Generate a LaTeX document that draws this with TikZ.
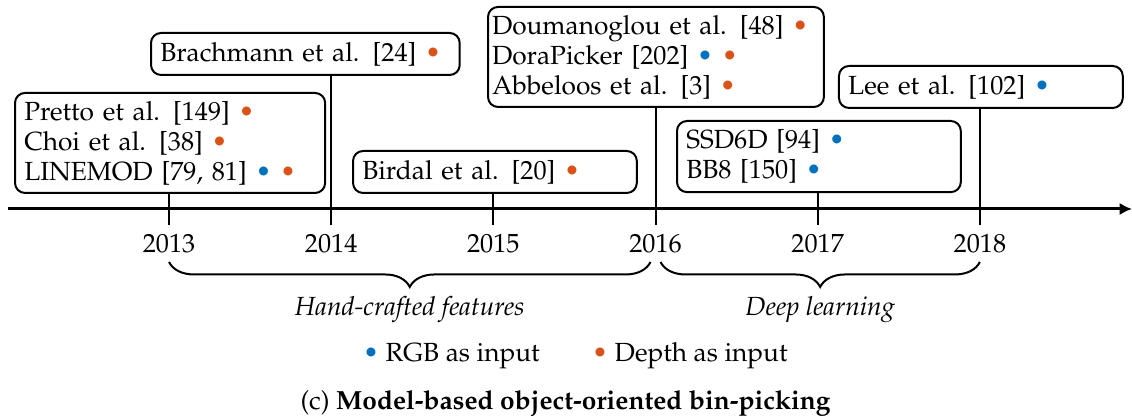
\documentclass[tikz,border=0pt]{standalone}
\usepackage[T1]{fontenc}
\usepackage{mathpazo}
\usepackage{xcolor}
\usetikzlibrary{calc,positioning,arrows.meta,decorations.pathreplacing}
\definecolor{rgbblue}{RGB}{0,114,189}
\definecolor{depthorange}{RGB}{217,83,25}
\newcommand{\rgbdot}{\textcolor{rgbblue}{\textbullet}}
\newcommand{\depthdot}{\textcolor{depthorange}{\textbullet}}

\begin{document}
\begin{tikzpicture}[font=\fontsize{10.5}{12}\selectfont,
    box/.style={draw,thick,rounded corners=4pt,align=left,anchor=north west,inner xsep=0.13cm,inner ysep=0pt},
    tick/.style={thick},
    brace/.style={decorate,thick,decoration={brace,mirror,amplitude=10pt}}]
\useasboundingbox (0,-2.938) rectangle (15.915,2.938);
% papers
\node[box,text width=4.08cm,minimum height=0.59cm] (brach) at (2.109,2.488) {Brachmann et al. [24] \depthdot};
\node[box,text width=4.10cm,minimum height=1.406cm] (pretto) at (0.197,1.645) {Pretto et al. [149] \depthdot\\Choi et al. [38] \depthdot\\LINEMOD [79, 81] \rgbdot\ \depthdot};
\node[box,text width=3.73cm,minimum height=0.59cm] (birdal) at (4.949,0.829) {Birdal et al. [20] \depthdot};
\node[box,inner xsep=0.056cm,text width=4.61cm,minimum height=1.406cm] (douma) at (6.847,2.854) {Doumanoglou et al. [48] \depthdot\\DoraPicker [202] \rgbdot\ \depthdot\\Abbeloos et al. [3] \depthdot};
\node[box,text width=3.73cm,minimum height=0.59cm] (lee) at (11.781,2.024) {Lee et al. [102] \rgbdot};
\node[box,text width=3.73cm,minimum height=1.0cm] (ssd) at (9.504,1.251) {SSD6D [94] \rgbdot\\BB8 [150] \rgbdot};
% time axis
\coordinate (start) at (0.112,0);
\coordinate (end) at (15.915,0);
\draw[line width=1.2pt,-{Latex[length=5pt,width=5pt]}] (start) -- (end);
\foreach \yr/\bx [count=\i from 0] in {2013/pretto,2014/brach,2015/birdal,2016/douma,2017/ssd,2018/lee} {
    \coordinate (y\yr) at (2.376+2.28*\i,0);
    \node (l\yr) at ($(y\yr)+(0,-0.49)$) {\yr};
    \draw[tick] ([yshift=-0.225cm]y\yr) -- (y\yr |- \bx.south);
}
% eras
\draw[brace] ([yshift=-0.745cm]y2013) -- ([yshift=-0.745cm,xshift=-0.07cm]y2016)
    node[midway,below=10pt] (hand) {\textit{Hand-crafted features}};
\draw[brace] ([yshift=-0.745cm,xshift=0.07cm]y2016) -- ([yshift=-0.745cm]y2018)
    node[midway,below=10pt] (deep) {\textit{Deep learning}};
% legend and caption
\node (legend) at (8.09,-2.07) {\rgbdot\ RGB as input\qquad\depthdot\ Depth as input};
\node (caption) at (7.95,-2.74) {(c) \textbf{Model-based object-oriented bin-picking}};
\end{tikzpicture}
\end{document}
